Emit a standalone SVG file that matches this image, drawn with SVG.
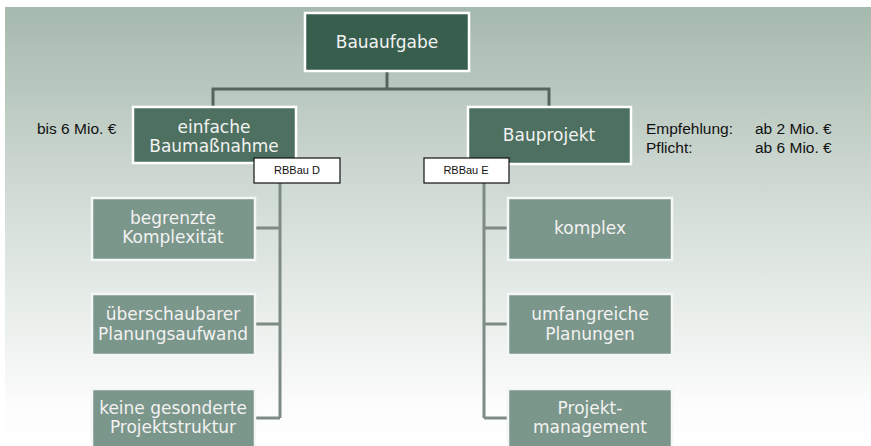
<svg xmlns="http://www.w3.org/2000/svg" width="871" height="446" viewBox="0 0 871 446">
<defs>
<linearGradient id="bg" x1="0" y1="0" x2="0" y2="1">
<stop offset="0" stop-color="#a6b9ae"/>
<stop offset="0.45" stop-color="#d3ddd7"/>
<stop offset="0.9" stop-color="#fbfcfb"/>
<stop offset="1" stop-color="#ffffff"/>
</linearGradient>
<style>
.b1{fill:#385e4e;stroke:#ffffff;stroke-width:2.5}
.b2{fill:#4e7060;stroke:#ffffff;stroke-width:2.5}
.b3{fill:#7b968a;stroke:#f4f7f5;stroke-width:2.5}
.tag{fill:#ffffff;stroke:#111111;stroke-width:1.2}
.bt{font-family:"DejaVu Sans",sans-serif;font-size:17px;fill:#f2f2f2;text-anchor:middle}
.st{font-family:"Liberation Sans",Arial,sans-serif;font-size:15.5px;fill:#111111}
.tt{font-family:"Liberation Sans",Arial,sans-serif;font-size:11px;fill:#111111;text-anchor:middle}
.c1{fill:none;stroke:#56665e;stroke-width:3}
.c2{fill:none;stroke:#7e8b85;stroke-width:3}
</style>
</defs>
<rect x="0" y="0" width="871" height="446" fill="#ffffff"/>
<rect x="5" y="7" width="866" height="439" fill="url(#bg)"/>
<g id="connectors">
<path class="c1" d="M387 71 V89 M213 107 V89 H549 V107"/>
<path class="c2" d="M280 183 V418 M256 228 H280 M256 324 H280 M256 418 H280"/>
<path class="c2" d="M484 183 V418 M484 228 H508 M484 324 H508 M484 418 H508"/>
</g>
<g id="bauaufgabe">
<rect class="b1" x="305" y="13" width="164" height="58"/>
<text class="bt" x="387" y="48">Bauaufgabe</text>
</g>
<g id="einfache">
<rect class="b2" x="133" y="107" width="163" height="56"/>
<text class="bt" x="214" y="133">einfache</text>
<text class="bt" x="214" y="152">Baumaßnahme</text>
</g>
<g id="bauprojekt">
<rect class="b2" x="468" y="107" width="163" height="57"/>
<text class="bt" x="549" y="141">Bauprojekt</text>
</g>
<g id="rbbau-d">
<rect class="tag" x="254" y="158" width="86" height="25"/>
<text class="tt" x="297" y="174">RBBau D</text>
</g>
<g id="rbbau-e">
<rect class="tag" x="424" y="158" width="85" height="25"/>
<text class="tt" x="466" y="174">RBBau E</text>
</g>
<g id="note-left">
<text class="st" x="37" y="134">bis 6 Mio. €</text>
</g>
<g id="note-right">
<text class="st" x="646" y="134">Empfehlung:</text>
<text class="st" x="755" y="134">ab 2 Mio. €</text>
<text class="st" x="646" y="153">Pflicht:</text>
<text class="st" x="755" y="153">ab 6 Mio. €</text>
</g>
<g id="begrenzte">
<rect class="b3" x="92" y="198" width="163" height="62"/>
<text class="bt" x="173" y="224">begrenzte</text>
<text class="bt" x="173" y="243">Komplexität</text>
</g>
<g id="ueberschaubarer">
<rect class="b3" x="92" y="294" width="163" height="61"/>
<text class="bt" x="173" y="320">überschaubarer</text>
<text class="bt" x="173" y="340">Planungsaufwand</text>
</g>
<g id="keine">
<rect class="b3" x="92" y="389" width="163" height="62"/>
<text class="bt" x="173" y="414">keine gesonderte</text>
<text class="bt" x="173" y="433">Projektstruktur</text>
</g>
<g id="komplex">
<rect class="b3" x="508" y="198" width="164" height="62"/>
<text class="bt" x="590" y="234">komplex</text>
</g>
<g id="umfangreiche">
<rect class="b3" x="508" y="294" width="164" height="61"/>
<text class="bt" x="590" y="320">umfangreiche</text>
<text class="bt" x="590" y="340">Planungen</text>
</g>
<g id="projektmanagement">
<rect class="b3" x="508" y="389" width="164" height="62"/>
<text class="bt" x="590" y="414">Projekt-</text>
<text class="bt" x="590" y="433">management</text>
</g>
</svg>
